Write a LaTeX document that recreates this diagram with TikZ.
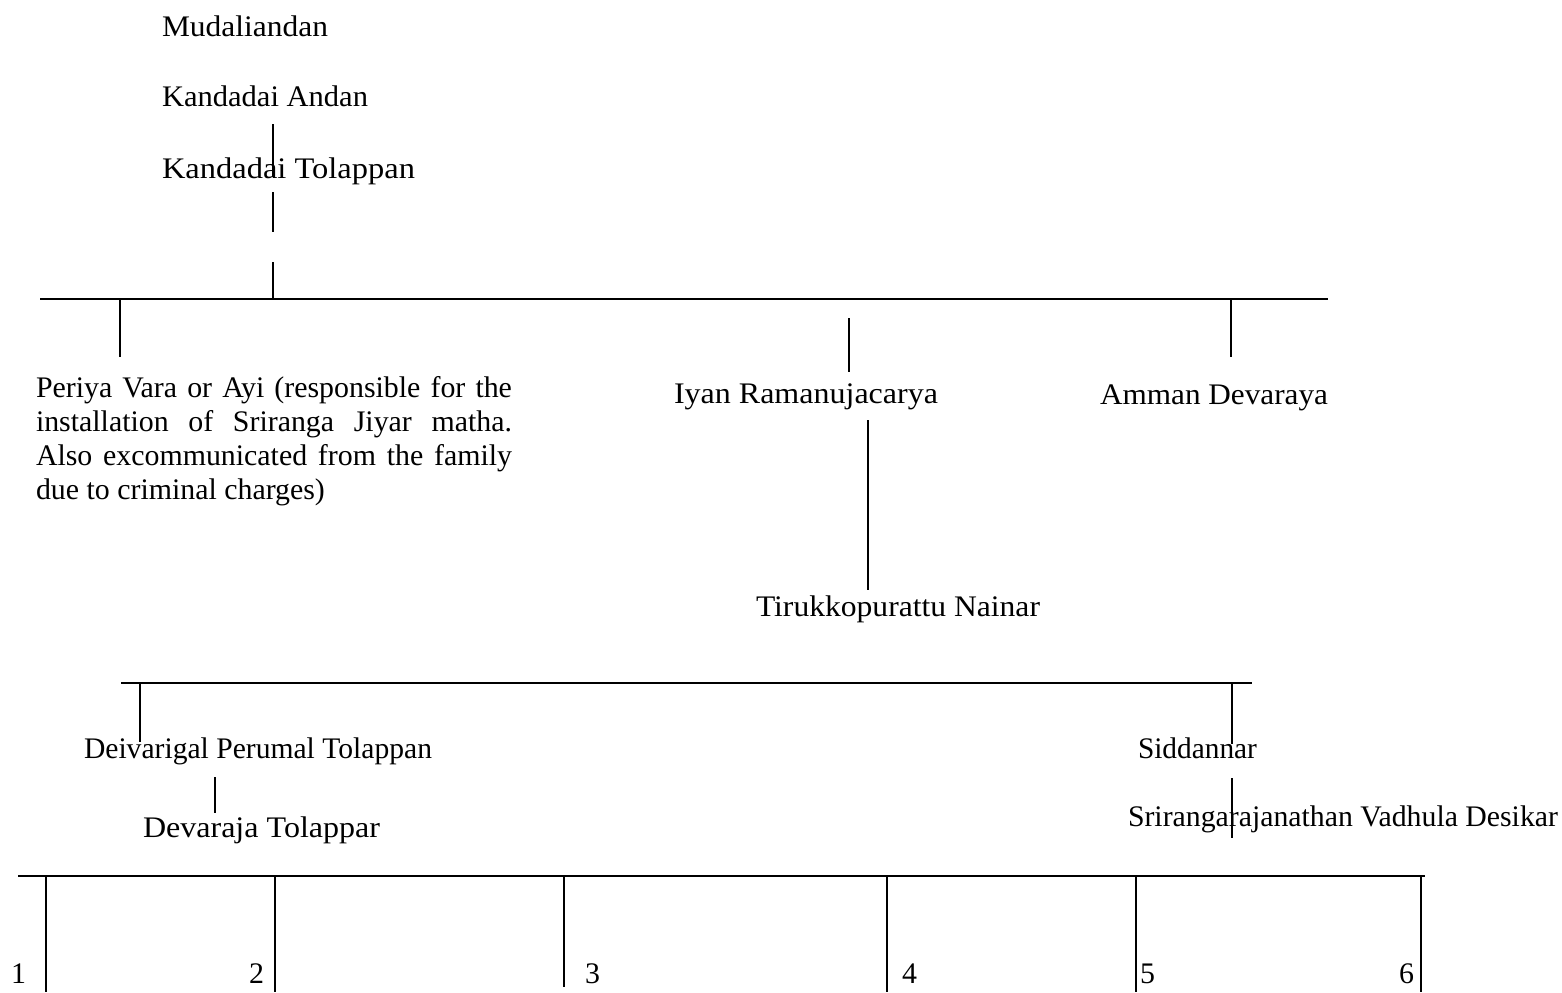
\documentclass[tikz,border=0pt]{standalone}
\usepackage{fontspec}
\setmainfont{Liberation Serif}
\usepackage{graphicx}
\newlength\pxu
\setlength\pxu{0.02cm}
% set a label to a given width (in drawing units), keeping its height
\newcommand\fitw[2]{\resizebox{#1\pxu}{\height}{#2}}
% a justified line of the long note
\newcommand\spreadline[1]{\makebox[476\pxu][s]{#1}}
\begin{document}
\begin{tikzpicture}[x=0.02cm,y=-0.02cm,
  person/.style={inner sep=0pt,outer sep=0pt,anchor=base west,
                 font=\fontsize{17pt}{20pt}\selectfont},
  rule/.style={line width=1.2pt,line cap=butt}]
\useasboundingbox (0,0) rectangle (1562,992);

% ---- first generations
\node[person] (mud)   at (162,36)  {\fitw{166}{Mudaliandan}};
\node[person] (andan) at (162,106) {\fitw{206}{Kandadai Andan}};
\node[person] (tol)   at (162,178) {\fitw{253}{Kandadai Tolappan}};

\coordinate (a1) at (273,124); \coordinate (a2) at (273,177);
\coordinate (b1) at (273,192); \coordinate (b2) at (273,232);
\coordinate (c1) at (273,262); \coordinate (c2) at (273,299);
\draw[rule] (a1) -- (a2);
\draw[rule] (b1) -- (b2);
\draw[rule] (c1) -- (c2);

% ---- children of Kandadai Tolappan
\coordinate (barAw) at (40,299);  \coordinate (barAe) at (1328,299);
\draw[rule] (barAw) -- (barAe);

\node[person] (per1) at (36,397) {\spreadline{Periya Vara or Ayi (responsible for the}};
\node[person] (per2) at (36,431) {\spreadline{installation of Sriranga Jiyar matha.}};
\node[person] (per3) at (36,465) {\spreadline{Also excommunicated from the family}};
\node[person] (per4) at (36,499) {due to criminal charges)};
\coordinate (p1) at (120,299); \coordinate (p2) at (120,357);
\draw[rule] (p1) -- (p2);

\node[person] (iyan) at (674,403) {\fitw{264}{Iyan Ramanujacarya}};
\coordinate (i1) at (849,318); \coordinate (i2) at (849,372);
\draw[rule] (i1) -- (i2);

\node[person] (amman) at (1100,404) {\fitw{228}{Amman Devaraya}};
\coordinate (m1) at (1231,299); \coordinate (m2) at (1231,357);
\draw[rule] (m1) -- (m2);

% ---- line of Iyan Ramanujacarya
\node[person] (tiru) at (756,616) {\fitw{284}{Tirukkopurattu Nainar}};
\coordinate (t1) at (868,420); \coordinate (t2) at (868,590);
\draw[rule] (t1) -- (t2);

\coordinate (barBw) at (121,683); \coordinate (barBe) at (1252,683);
\draw[rule] (barBw) -- (barBe);

\node[person] (deiv) at (84,758) {\fitw{348}{Deivarigal Perumal Tolappan}};
\coordinate (d1) at (140,683); \coordinate (d2) at (140,742);
\draw[rule] (d1) -- (d2);

\node[person] (deva) at (143,837) {\fitw{237}{Devaraja Tolappar}};
\coordinate (e1) at (215,777); \coordinate (e2) at (215,813);
\draw[rule] (e1) -- (e2);

\node[person] (sidd) at (1138,758) {\fitw{119}{Siddannar}};
\coordinate (s1) at (1232,683); \coordinate (s2) at (1232,744);
\draw[rule] (s1) -- (s2);

\node[person] (sri) at (1128,826) {\fitw{430}{Srirangarajanathan Vadhula Desikar}};
\coordinate (r1) at (1232,778); \coordinate (r2) at (1232,838);
\draw[rule] (r1) -- (r2);

% ---- children of Devaraja Tolappar
\coordinate (barCw) at (18,876); \coordinate (barCe) at (1425,876);
\draw[rule] (barCw) -- (barCe);

\foreach \k/\xx/\yy in {1/46/992,2/275/992,3/564/987,4/887/992,5/1136/992,6/1421/992}{
  \coordinate (k\k top) at (\xx,876);
  \coordinate (k\k bot) at (\xx,\yy);
  \draw[rule] (k\k top) -- (k\k bot);
}
\node[person] (n1) at (11,983)   {1};
\node[person] (n2) at (249,983)  {2};
\node[person] (n3) at (585,983)  {3};
\node[person] (n4) at (902,983)  {4};
\node[person] (n5) at (1140,983) {5};
\node[person] (n6) at (1399,983) {6};
\end{tikzpicture}
\end{document}
